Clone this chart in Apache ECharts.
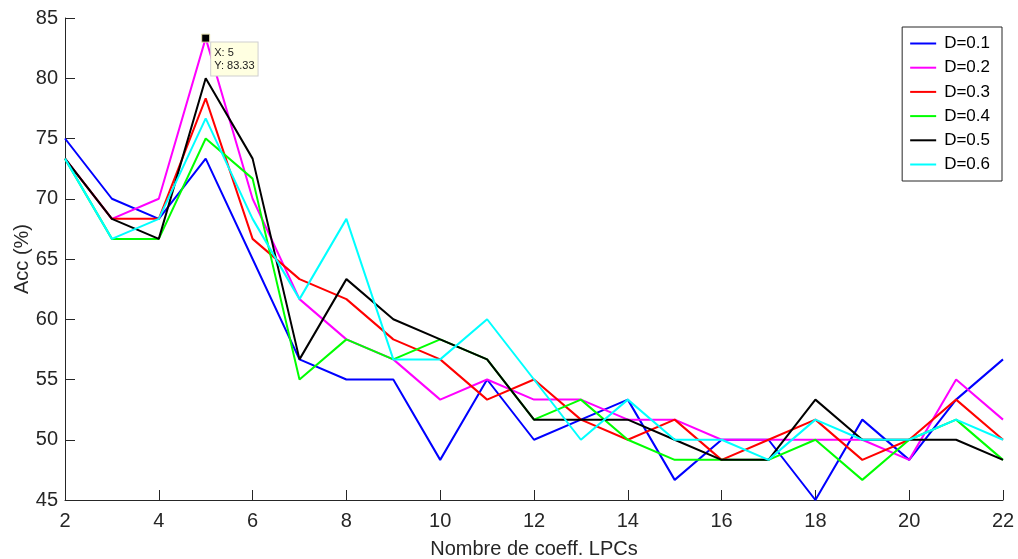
<!DOCTYPE html>
<html>
<head>
<meta charset="utf-8">
<script src="https://cdn.jsdelivr.net/npm/echarts@6/dist/echarts.min.js"></script>
<style>
  html, body { margin: 0; padding: 0; background: #fff; }
  #chart { width: 1018px; height: 559px; }
</style>
</head>
<body>
<div id="chart"></div>
<script>
// Number of LPC coefficients (x axis)
const coeffs = [2, 3, 4, 5, 6, 7, 8, 9, 10, 11, 12, 13, 14, 15, 16, 17, 18, 19, 20, 21, 22];

// Accuracy (%) per value of D
const accD01 = [75, 70, 68.33, 73.33, 65, 56.67, 55, 55, 48.33, 55, 50, 51.67, 53.33, 46.67, 50, 50, 45, 51.67, 48.33, 53.33, 56.67];
const accD02 = [73.33, 68.33, 70, 83.33, 70, 61.67, 58.33, 56.67, 53.33, 55, 53.33, 53.33, 51.67, 51.67, 50, 50, 50, 50, 48.33, 55, 51.67];
const accD03 = [73.33, 68.33, 68.33, 78.33, 66.67, 63.33, 61.67, 58.33, 56.67, 53.33, 55, 51.67, 50, 51.67, 48.33, 50, 51.67, 48.33, 50, 53.33, 50];
const accD04 = [73.33, 66.67, 66.67, 75, 71.67, 55, 58.33, 56.67, 58.33, 56.67, 51.67, 53.33, 50, 48.33, 48.33, 48.33, 50, 46.67, 50, 51.67, 48.33];
const accD05 = [73.33, 68.33, 66.67, 80, 73.33, 56.67, 63.33, 60, 58.33, 56.67, 51.67, 51.67, 51.67, 50, 48.33, 48.33, 53.33, 50, 50, 50, 48.33];
const accD06 = [73.33, 66.67, 68.33, 76.67, 68.33, 61.67, 68.33, 56.67, 56.67, 60, 55, 50, 53.33, 50, 50, 48.33, 51.67, 50, 50, 51.67, 50];

const seriesNames = ['D=0.1', 'D=0.2', 'D=0.3', 'D=0.4', 'D=0.5', 'D=0.6'];
const seriesValues = [accD01, accD02, accD03, accD04, accD05, accD06];
const seriesColors = ['#0000FF', '#FF00FF', '#FF0000', '#00FF00', '#000000', '#00FFFF'];

// Highlighted data tip (x, y) on D=0.2
const tipX = 5;
const tipY = 83.33;

const xTicks = { min: 2, max: 22, step: 2 };
const yTicks = { min: 45, max: 85, step: 5 };

const FONT = '"Liberation Sans", Arial, Helvetica, sans-serif';
const AXIS_COLOR = '#262626';

const chart = echarts.init(document.getElementById('chart'), null, { renderer: 'canvas' });

const series = seriesNames.map((name, i) => {
  const s = {
    name: name,
    type: 'line',
    symbol: 'none',
    data: coeffs.map((c, k) => [c, seriesValues[i][k]]),
    lineStyle: { color: seriesColors[i], width: 2 },
    itemStyle: { color: seriesColors[i] },
    emphasis: { disabled: true },
    animation: false,
    z: 2 + i
  };
  if (i === 1) {
    s.markPoint = {
      symbol: 'rect',
      symbolSize: 8,
      itemStyle: { color: '#000000', borderColor: '#E8E4B0', borderWidth: 1 },
      data: [{ coord: [tipX, tipY], value: tipY }],
      label: {
        show: true,
        position: [10, 9],
        formatter: () => 'X: ' + tipX + '\nY: ' + tipY.toFixed(2),
        fontFamily: FONT,
        fontSize: 11,
        lineHeight: 13,
        color: '#1a1a1a',
        backgroundColor: '#FFFFE1',
        borderColor: '#CFCFCF',
        borderWidth: 1,
        padding: [4, 3, 3, 3],
        align: 'left',
        verticalAlign: 'top'
      },
      z: 20
    };
  }
  return s;
});

const option = {
  backgroundColor: '#ffffff',
  animation: false,
  grid: { left: 65, right: 15, top: 18, bottom: 59, containLabel: false, outerBoundsMode: 'none' },
  legend: {
    orient: 'vertical',
    right: 16,
    top: 27,
    data: seriesNames.map((n, i) => ({ name: n, itemStyle: { opacity: 0 }, lineStyle: { color: seriesColors[i], width: 2 } })),
    itemWidth: 26,
    itemHeight: 14,
    itemGap: 7.2,
    padding: [8, 12, 8, 7],
    borderColor: '#262626',
    borderWidth: 1,
    backgroundColor: '#ffffff',
    textStyle: { fontFamily: FONT, fontSize: 17, color: '#000000', padding: [0, 0, 0, 3] },
    selectedMode: false
  },
  xAxis: {
    type: 'value',
    min: xTicks.min,
    max: xTicks.max,
    interval: xTicks.step,
    name: 'Nombre de coeff. LPCs',
    nameLocation: 'middle',
    nameGap: 39,
    nameTextStyle: { fontFamily: FONT, fontSize: 20, color: AXIS_COLOR },
    axisLine: { show: true, lineStyle: { color: AXIS_COLOR, width: 1 } },
    axisTick: { show: true, inside: true, length: 10, lineStyle: { color: AXIS_COLOR } },
    axisLabel: { fontFamily: FONT, fontSize: 20, color: AXIS_COLOR, margin: 11 },
    splitLine: { show: false }
  },
  yAxis: {
    type: 'value',
    min: yTicks.min,
    max: yTicks.max,
    interval: yTicks.step,
    name: 'Acc (%)',
    nameLocation: 'middle',
    nameGap: 33,
    nameRotate: 90,
    nameMoveOverlap: false,
    nameTextStyle: { fontFamily: FONT, fontSize: 20, color: AXIS_COLOR },
    axisLine: { show: true, lineStyle: { color: AXIS_COLOR, width: 1 } },
    axisTick: { show: true, inside: true, length: 10, lineStyle: { color: AXIS_COLOR } },
    axisLabel: { fontFamily: FONT, fontSize: 20, color: AXIS_COLOR, margin: 7 },
    splitLine: { show: false }
  },
  series: series
};

chart.setOption(option);
</script>
</body>
</html>
